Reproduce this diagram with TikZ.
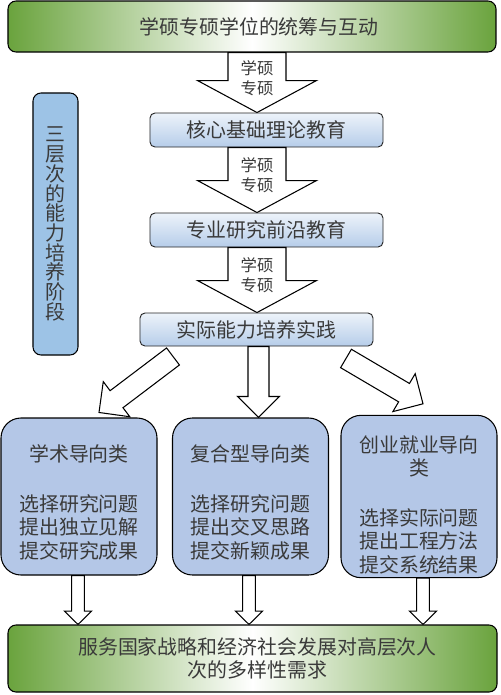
\documentclass[tikz,border=0pt]{standalone}
\usepackage{fontspec}
\setmainfont{Noto Sans CJK SC}
\usetikzlibrary{calc,positioning}
\definecolor{leaf}{HTML}{6AA33D}
\definecolor{ink}{HTML}{3A3A3A}
\definecolor{paleblue}{HTML}{EDF3FA}
\definecolor{stepblue}{HTML}{B6CDE9}
\definecolor{stageblue}{HTML}{9DC3E6}
\definecolor{typeblue}{HTML}{B4C7E7}

% block arrow: start, tip, shaft half width, head half width, head length
\newcommand{\blockarr}[5]{%
  \coordinate (ba-h) at ($(#2)!#5!(#1)$);
  \draw[arrowbody] ($(#1)!#3!90:(#2)$) -- ($(ba-h)!#3!90:(#2)$) -- ($(ba-h)!#4!90:(#2)$) -- (#2)
    -- ($(ba-h)!#4!-90:(#2)$) -- ($(ba-h)!#3!-90:(#2)$) -- ($(#1)!#3!-90:(#2)$) -- cycle;}

\begin{document}
\begin{tikzpicture}[x=0.03cm, y=-0.03cm,
  greenbar/.style={draw=black, line width=0.9pt, rounded corners=2.4mm, left color=leaf, right color=leaf, middle color=white,
    minimum width=14.64cm, minimum height=1.53cm, text=ink, align=center, font=\fontsize{17}{19.6}\selectfont},
  levelbox/.style={draw=black!85, line width=0.8pt, rounded corners=1.5mm, top color=paleblue, bottom color=stepblue,
    minimum width=6.99cm, minimum height=1.02cm, text=ink, font=\fontsize{17}{20}\selectfont},
  stagebox/.style={draw=black, line width=0.9pt, fill=stageblue, rounded corners=2.4mm, minimum width=1.35cm,
    minimum height=7.86cm, align=center, text=ink, font=\fontsize{17}{16.8}\selectfont},
  typebox/.style={draw=black, line width=0.9pt, fill=typeblue, rounded corners=6mm, minimum width=4.68cm,
    minimum height=4.71cm, align=center, text=ink, font=\fontsize{17}{20}\selectfont},
  arrowbody/.style={draw=black, fill=white, line width=0.9pt},
  armlabel/.style={text=ink, align=center, font=\fontsize{14}{17}\selectfont}]
  \useasboundingbox (0,0) rectangle (500,695);
  % top and bottom bars
  \node[greenbar] (pool) at (252,26.5) {\hspace*{0.42cm}学硕专硕学位的统筹与互动};
  \node[greenbar, minimum width=14.67cm, minimum height=2.01cm] (need) at (252.5,658.5)
    {\hspace*{0.3cm}服务国家战略和经济社会发展对高层次人\\\hspace*{0.3cm}次的多样性需求};
  % three levels
  \node[levelbox] (core) at (266.5,130) {核心基础理论教育};
  \node[levelbox] (front) at (266.5,230) {专业研究前沿教育};
  \node[levelbox, minimum height=0.99cm] (prac) at (256.5,329.5) {实际能力培养实践};
  \node[stagebox] (stage) at (55.5,224) {三\\层\\次\\的\\能\\力\\培\\养\\阶\\段};
  % three types
  \node[typebox] (acad) at (79,496.5) {\rule{0pt}{24pt}学术导向类\\[22.5pt]选择研究问题\\提出独立见解\\提交研究成果};
  \node[typebox] (mixed) at (250.5,496.5) {\rule{0pt}{24pt}复合型导向类\\[22.5pt]选择研究问题\\提出交叉思路\\提交新颖成果};
  \node[typebox] (career) at (419,496.5) {\rule{0pt}{28pt}创业就业导向\\类\\[22.5pt]选择实际问题\\提出工程方法\\提交系统结果};
  % trunk arrows
  \coordinate (trunk) at (257,0);
  \foreach \s/\e [count=\i] in {pool/core, core/front, front/prac}
    {\coordinate (t\i-s) at (\s.south -| trunk);
     \coordinate (t\i-e) at (\e.north -| trunk);
     \blockarr{t\i-s}{t\i-e}{0.87cm}{1.785cm}{0.96cm}
     \node[armlabel] at ($(t\i-s)!0.43!(t\i-e)$) {学硕\\专硕};}
  % branch arrows
  \coordinate (b1-s) at ($(prac.south)+(-83.5,10)$);
  \coordinate (b1-e) at ($(acad.north)+(20,-5)$);
  \coordinate (b2-s) at ($(prac.south)+(2,0)$);
  \coordinate (b2-e) at (b2-s |- mixed.north);
  \coordinate (b3-s) at ($(prac.south)+(89.5,12)$);
  \coordinate (b3-e) at ($(career.north)+(4,-11)$);
  \blockarr{b1-s}{b1-e}{0.32cm}{0.66cm}{0.66cm}
  \blockarr{b2-s}{b2-e}{0.315cm}{0.63cm}{0.63cm}
  \blockarr{b3-s}{b3-e}{0.32cm}{0.66cm}{0.66cm}
  % output arrows
  \foreach \b/\dx in {acad/-1, mixed/-1.5, career/4}
    {\coordinate (\b-o) at ($(\b.south)+(\dx,0)$);
     \coordinate (\b-i) at (\b-o |- need.north);
     \blockarr{\b-o}{\b-i}{0.19cm}{0.405cm}{0.4cm}}
\end{tikzpicture}
\end{document}
